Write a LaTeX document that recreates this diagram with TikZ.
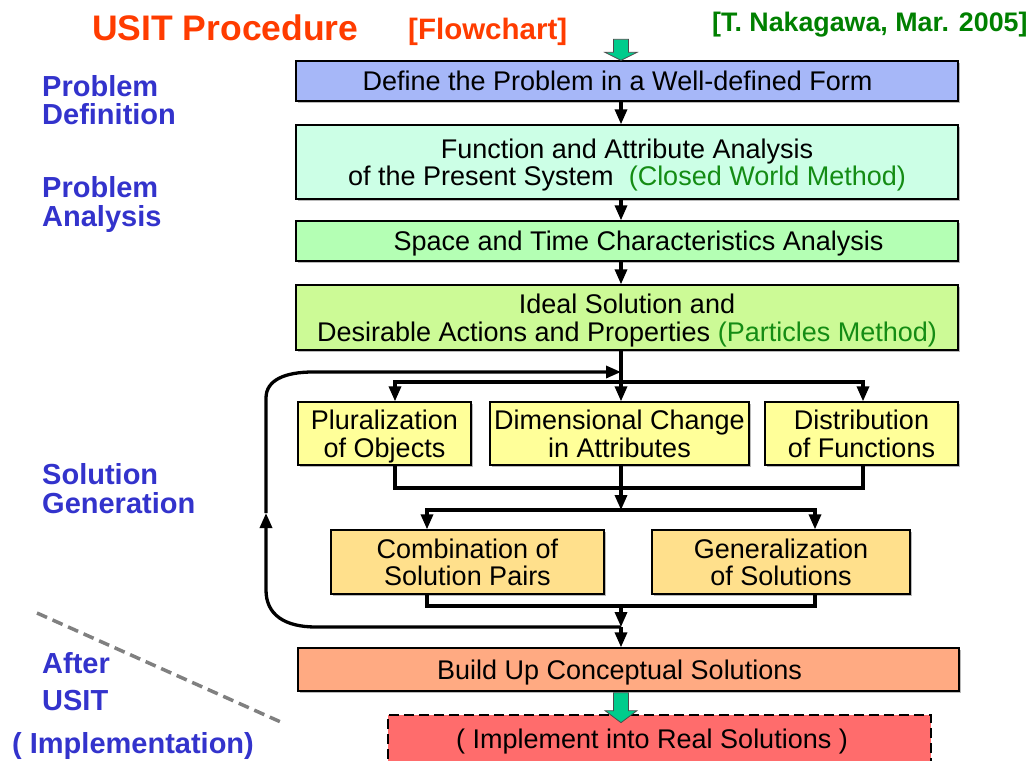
\documentclass[tikz,border=0pt]{standalone}
\usepackage{fontspec}
\setmainfont{Liberation Sans}
\usetikzlibrary{arrows.meta,shadows}
\definecolor{cDef}{RGB}{166,183,248}
\definecolor{cFun}{RGB}{204,255,230}
\definecolor{cSpc}{RGB}{180,255,180}
\definecolor{cIde}{RGB}{204,250,150}
\definecolor{cYel}{RGB}{255,255,153}
\definecolor{cGold}{RGB}{255,224,140}
\definecolor{cSal}{RGB}{255,170,130}
\definecolor{cRed}{RGB}{255,108,108}
\definecolor{cGA}{RGB}{0,204,140}
\definecolor{cTitle}{RGB}{255,60,0}
\definecolor{cAuth}{RGB}{0,128,0}
\definecolor{cMeth}{RGB}{20,140,20}
\definecolor{cLbl}{RGB}{51,51,204}
\newcommand\bt[1]{\raisebox{-4.3pt}[\height][\depth]{\begin{tabular}{@{}c@{}}#1\end{tabular}}}
\begin{document}
\begin{tikzpicture}[x=1pt,y=-1pt,
 box/.style={draw=black, line width=1.3pt, inner sep=0pt,
   font=\fontsize{27}{27.5}\selectfont,
   drop shadow={shadow xshift=1.5pt,shadow yshift=-1.5pt,fill=black!45,opacity=0.6}},
 conn/.style={line width=3.3pt, line join=miter},
 arr/.style={conn, -{Triangle[length=15pt,width=12pt]}},
 lbl/.style={anchor=base west, inner sep=0pt, text=cLbl, font=\fontsize{29}{30}\selectfont\bfseries},
 ttl/.style={anchor=base west, inner sep=0pt, font=\bfseries},
 garrow/.style={fill=cGA, draw=black!70, line width=0.8pt},
]
\useasboundingbox (0,0) rectangle (1032,760);

% titles
\node[ttl, text=cTitle, font=\fontsize{35.5}{40}\selectfont\bfseries] (title) at (92,41) {USIT Procedure};
\node[ttl, text=cTitle, font=\fontsize{29.5}{32}\selectfont\bfseries] (flow) at (408,40) {[Flowchart]};
\node[ttl, text=cAuth, font=\fontsize{26.8}{30}\selectfont\bfseries] (auth) at (712,32) {[T. Nakagawa, Mar. 2005]};

% left labels
\node[lbl] (l1a) at (42,96) {Problem};
\node[lbl] (l1b) at (42,124) {Definition};
\node[lbl] (l2a) at (42,197) {Problem};
\node[lbl] (l2b) at (42,226) {Analysis};
\node[lbl] (l3a) at (42,484) {Solution};
\node[lbl] (l3b) at (42,513) {Generation};
\node[lbl] (l4a) at (42,673) {After};
\node[lbl] (l4b) at (42,710) {USIT};
\node[lbl] (l4c) at (12,753) {( Implementation)};

\coordinate (dl1) at (37,613);
\coordinate (dl2) at (283,723);
\draw[black!50, line width=3.5pt, dash pattern=on 11pt off 6pt] (dl1) -- (dl2);

% boxes
\node[box, fill=cDef, minimum width=662pt, minimum height=40pt] (def) at (627,81)
  {\bt{\hspace*{-19pt}Define the Problem in a Well-defined Form}};
\node[box, fill=cFun, minimum width=662pt, minimum height=74pt] (fun) at (627,162)
  {\bt{Function and Attribute Analysis\\of the Present System~~{\color{cMeth}(Closed World Method)}}};
\node[box, fill=cSpc, minimum width=662pt, minimum height=40pt] (spc) at (627,241)
  {\bt{Space and Time Characteristics Analysis\hspace*{-23pt}}};
\node[box, fill=cIde, minimum width=662pt, minimum height=65pt] (ide) at (627,317.5)
  {\bt{Ideal Solution and\\Desirable Actions and Properties {\color{cMeth}(Particles Method)}}};
\node[box, fill=cYel, minimum width=173pt, minimum height=63pt] (plu) at (384.5,433.5)
  {\bt{Pluralization\\of Objects}};
\node[box, fill=cYel, minimum width=259pt, minimum height=63pt] (dim) at (619.5,433.5)
  {\bt{Dimensional Change\\in Attributes}};
\node[box, fill=cYel, minimum width=193pt, minimum height=63pt] (dis) at (861.5,433.5)
  {\bt{Distribution\\of Functions}};
\node[box, fill=cGold, minimum width=273pt, minimum height=64pt] (com) at (467.5,562)
  {\bt{Combination of\\Solution Pairs}};
\node[box, fill=cGold, minimum width=258pt, minimum height=64pt] (gen) at (781,562)
  {\bt{Generalization\\of Solutions}};
\node[box, fill=cSal, minimum width=661pt, minimum height=43pt] (bld) at (628.5,669.5)
  {\bt{\hspace*{-18pt}Build Up Conceptual Solutions}};
\node[draw=black, line width=2.8pt, dash pattern=on 10pt off 5pt, fill=cRed,
  minimum width=543pt, minimum height=50pt, inner sep=0pt] (imp) at (659.5,740) {};
\node[inner sep=0pt, font=\fontsize{27}{27.5}\selectfont] (impt) at (652,742)
  {( Implement into Real Solutions )};

% coordinates
\coordinate (mx) at (621,0);
\coordinate (pxc) at (395,0);
\coordinate (dxc) at (863,0);
\coordinate (cxc) at (427,0);
\coordinate (gxc) at (815,0);
\coordinate (b0) at (621,372);
\coordinate (b1) at (621,382);
\coordinate (j1) at (621,488);
\coordinate (b2) at (621,510);
\coordinate (j2) at (621,606);
\coordinate (j3) at (621,627);
\coordinate (lbr) at (316,627);
\coordinate (lbl) at (266,590);
\coordinate (lmid) at (266,513);
\coordinate (ltl) at (266,398);
\coordinate (ltr) at (313,372);

% connectors
\draw[arr] (def.south -| mx) -- (fun.north -| mx);
\draw[arr] (fun.south -| mx) -- (spc.north -| mx);
\draw[arr] (spc.south -| mx) -- (ide.north -| mx);
\draw[arr] (ide.south -| mx) -- (dim.north -| mx);
\draw[arr] (b1) -| (pxc |- plu.north);
\draw[arr] (b1) -| (dxc |- dis.north);
\draw[conn] (pxc |- plu.south) |- (j1) -| (dxc |- dis.south);
\draw[arr] (dim.south -| mx) -- (b2);
\draw[arr] (b2) -| (cxc |- com.north);
\draw[arr] (b2) -| (gxc |- gen.north);
\draw[conn] (cxc |- com.south) |- (j2) -| (gxc |- gen.south);
\draw[arr] (j2) -- (j3);
\draw[arr] (j3) -- (bld.north -| mx);
\draw[arr] (j3) -- (lbr) .. controls (285,627) and (266,615) .. (lbl) -- (lmid);
\draw[arr] (lmid) -- (ltl) .. controls (266,380) and (285,372) .. (ltr) -- (b0);

% green block arrows
\draw[garrow, shift={(def.north -| mx)}] (-7.5,-21) -- (7.5,-21) -- (7.5,-8) -- (16,-8) -- (0,0) -- (-16,-8) -- (-7.5,-8) -- cycle;
\draw[garrow, shift={(bld.south -| mx)}] (-7.5,1) -- (7.5,1) -- (7.5,19) -- (16,19) -- (0,31) -- (-16,19) -- (-7.5,19) -- cycle;
\end{tikzpicture}
\end{document}
